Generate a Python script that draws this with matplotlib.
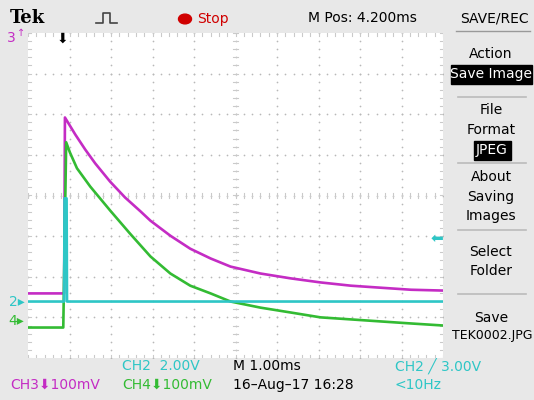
import matplotlib.pyplot as plt
from matplotlib.patches import Rectangle, Circle
import numpy as np

# screen time in ms from left edge (M 1.00ms/div), trace level in divisions from centre
ch3_t = [0.0, 0.82, 0.87, 0.89, 1.14, 1.38, 1.62, 1.98, 2.34, 2.71, 2.95, 3.43, 3.91,
         4.40, 4.88, 5.60, 6.33, 7.05, 7.78, 8.50, 9.23, 10.0]
ch3_y = [-2.41, -2.41, -2.41, 1.92, 1.50, 1.13, 0.79, 0.34, -0.05, -0.39, -0.62, -0.99, -1.31,
         -1.55, -1.75, -1.92, -2.04, -2.14, -2.22, -2.27, -2.32, -2.34]

ch4_t = [0.0, 0.82, 0.85, 0.92, 1.01, 1.18, 1.50, 1.98, 2.46, 2.95, 3.43, 3.91, 4.40,
         4.88, 5.60, 6.33, 7.05, 7.78, 8.50, 9.23, 10.0]
ch4_y = [-3.25, -3.25, -3.25, 1.31, 1.06, 0.67, 0.22, -0.37, -0.94, -1.50, -1.92, -2.22, -2.41,
         -2.61, -2.76, -2.88, -3.00, -3.05, -3.10, -3.15, -3.20]

ch2_t = [0.0, 0.87, 0.88, 0.93, 0.94, 10.0]
ch2_y = [-2.61, -2.61, -0.07, -0.07, -2.61, -2.61]

trig_pos = 0.82      # ms, trigger marker on top
trig_level = -1.07   # div, CH2 trigger level arrow on right
ch2_ref = -2.61
ch4_ref = -3.10

menu = ["Action", "File", "Format", "About", "Saving", "Images", "Select", "Folder", "Save"]

MAG = '#c42cc4'
GRN = '#33bb33'
CYN = '#2ec6c6'
BG = '#e8e8e8'
W, H = 534, 400
FAM = ['Liberation Sans Narrow', 'DejaVu Sans', 'Noto Sans CJK SC']

fig = plt.figure(figsize=(5.34, 4.0), dpi=100, facecolor=BG)

def fx(x):
    return x / W

def fy(y):
    return 1 - y / H

def label(x, y, s, **kw):
    kw.setdefault('fontsize', 10)
    kw.setdefault('family', FAM)
    fig.text(fx(x), fy(y), s, va='center', **kw)

# graticule area
L, R, T, B = 28, 443, 33, 358
ax = fig.add_axes([fx(L), fy(B), (R - L) / W, (B - T) / H])
ax.set_facecolor('white')
ax.set_xlim(0, 10)
ax.set_ylim(-4, 4)
for s in ax.spines.values():
    s.set_visible(False)
ax.set_xticks([])
ax.set_yticks([])

dot = '#b8b8b8'
tick = '#cacaca'
fine_x = np.arange(0, 10.01, 0.2)
fine_y = np.arange(-4, 4.01, 0.2)
for gx in range(1, 10):
    ax.scatter(np.full(len(fine_y), gx), fine_y, s=1.5, color=dot, lw=0, zorder=1)
for gy in range(-3, 4):
    ax.scatter(fine_x, np.full(len(fine_x), gy), s=1.5, color=dot, lw=0, zorder=1)
# ticks on centre lines and frame
for v in fine_x:
    ax.plot([v, v], [-0.07, 0.07], color=tick, lw=0.8, zorder=1)
    ax.plot([v, v], [3.93, 4.0], color=tick, lw=0.8, zorder=1)
    ax.plot([v, v], [-4.0, -3.93], color=tick, lw=0.8, zorder=1)
for v in fine_y:
    ax.plot([4.93, 5.07], [v, v], color=tick, lw=0.8, zorder=1)
    ax.plot([0, 0.07], [v, v], color=tick, lw=0.8, zorder=1)
    ax.plot([9.93, 10], [v, v], color=tick, lw=0.8, zorder=1)

ax.plot(ch3_t, ch3_y, color=MAG, lw=1.9, zorder=3)
ax.plot(ch4_t, ch4_y, color=GRN, lw=1.9, zorder=4)
ax.plot(ch2_t, ch2_y, color=CYN, lw=1.9, zorder=5)

ax.text(trig_pos, 3.85, '⬇', ha='center', va='center', fontsize=10,
        family='DejaVu Sans', color='black', clip_on=False)
ax.text(9.86, trig_level, '⬅', ha='center', va='center', fontsize=11,
        family='DejaVu Sans', color=CYN, clip_on=False)
ax.text(-0.28, ch2_ref, '2▸', ha='center', va='center', fontsize=10,
        family='DejaVu Sans', color=CYN, clip_on=False)
ax.text(-0.28, ch4_ref, '4▸', ha='center', va='center', fontsize=10,
        family='DejaVu Sans', color=GRN, clip_on=False)
ax.text(-0.3, 3.9, r'3$^{\uparrow}$', ha='center', va='center', fontsize=10,
        family='DejaVu Sans', color=MAG, clip_on=False)

# top status bar
fig.text(fx(10), fy(18), 'Tek', family='DejaVu Serif', fontweight='bold',
         fontsize=13, va='center')
fig.lines.append(plt.Line2D([fx(96), fx(103), fx(103), fx(110), fx(110), fx(117)],
                            [fy(23), fy(23), fy(13), fy(13), fy(23), fy(23)],
                            transform=fig.transFigure, color='#444444', lw=1.2))
fig.patches.append(Circle((fx(185), fy(19)), 6.5 / W, transform=fig.transFigure,
                          color='#d00000'))
label(197, 19, 'Stop', color='#d00000')
label(308, 18, 'M Pos: 4.200ms')
label(494, 18, 'SAVE/REC', ha='center')
fig.lines.append(plt.Line2D([fx(456), fx(530)], [fy(31), fy(31)],
                            transform=fig.transFigure, color='#999999', lw=1))

# right menu
for y in [97, 163, 230, 294]:
    fig.lines.append(plt.Line2D([fx(458), fx(526)], [fy(y), fy(y)],
                                transform=fig.transFigure, color='#bbbbbb', lw=1.2))
fig.patches.append(Rectangle((fx(451), fy(84)), 81 / W, 19 / H,
                             transform=fig.transFigure, color='black'))
fig.patches.append(Rectangle((fx(474), fy(160)), 37 / W, 19 / H,
                             transform=fig.transFigure, color='black'))
ys = [54, 110, 130, 177, 197, 216, 252, 271, 318]
for s, y in zip(menu, ys):
    label(491, y, s, ha='center')
label(491, 74, 'Save Image', ha='center', color='white')
label(492, 150, 'JPEG', ha='center', color='white')
label(492, 336, 'TEK0002.JPG', ha='center', fontsize=9)

# bottom readouts
label(122, 366, 'CH2  2.00V', color=CYN)
label(233, 366, 'M 1.00ms')
label(395, 366, 'CH2 ╱ 3.00V', color=CYN)
label(10, 385, 'CH3⬇100mV', color=MAG)
label(122, 385, 'CH4⬇100mV', color=GRN)
label(233, 385, '16–Aug–17 16:28')
label(395, 385, '<10Hz', color=CYN)

fig.savefig('out.png', dpi=100, facecolor=BG)
